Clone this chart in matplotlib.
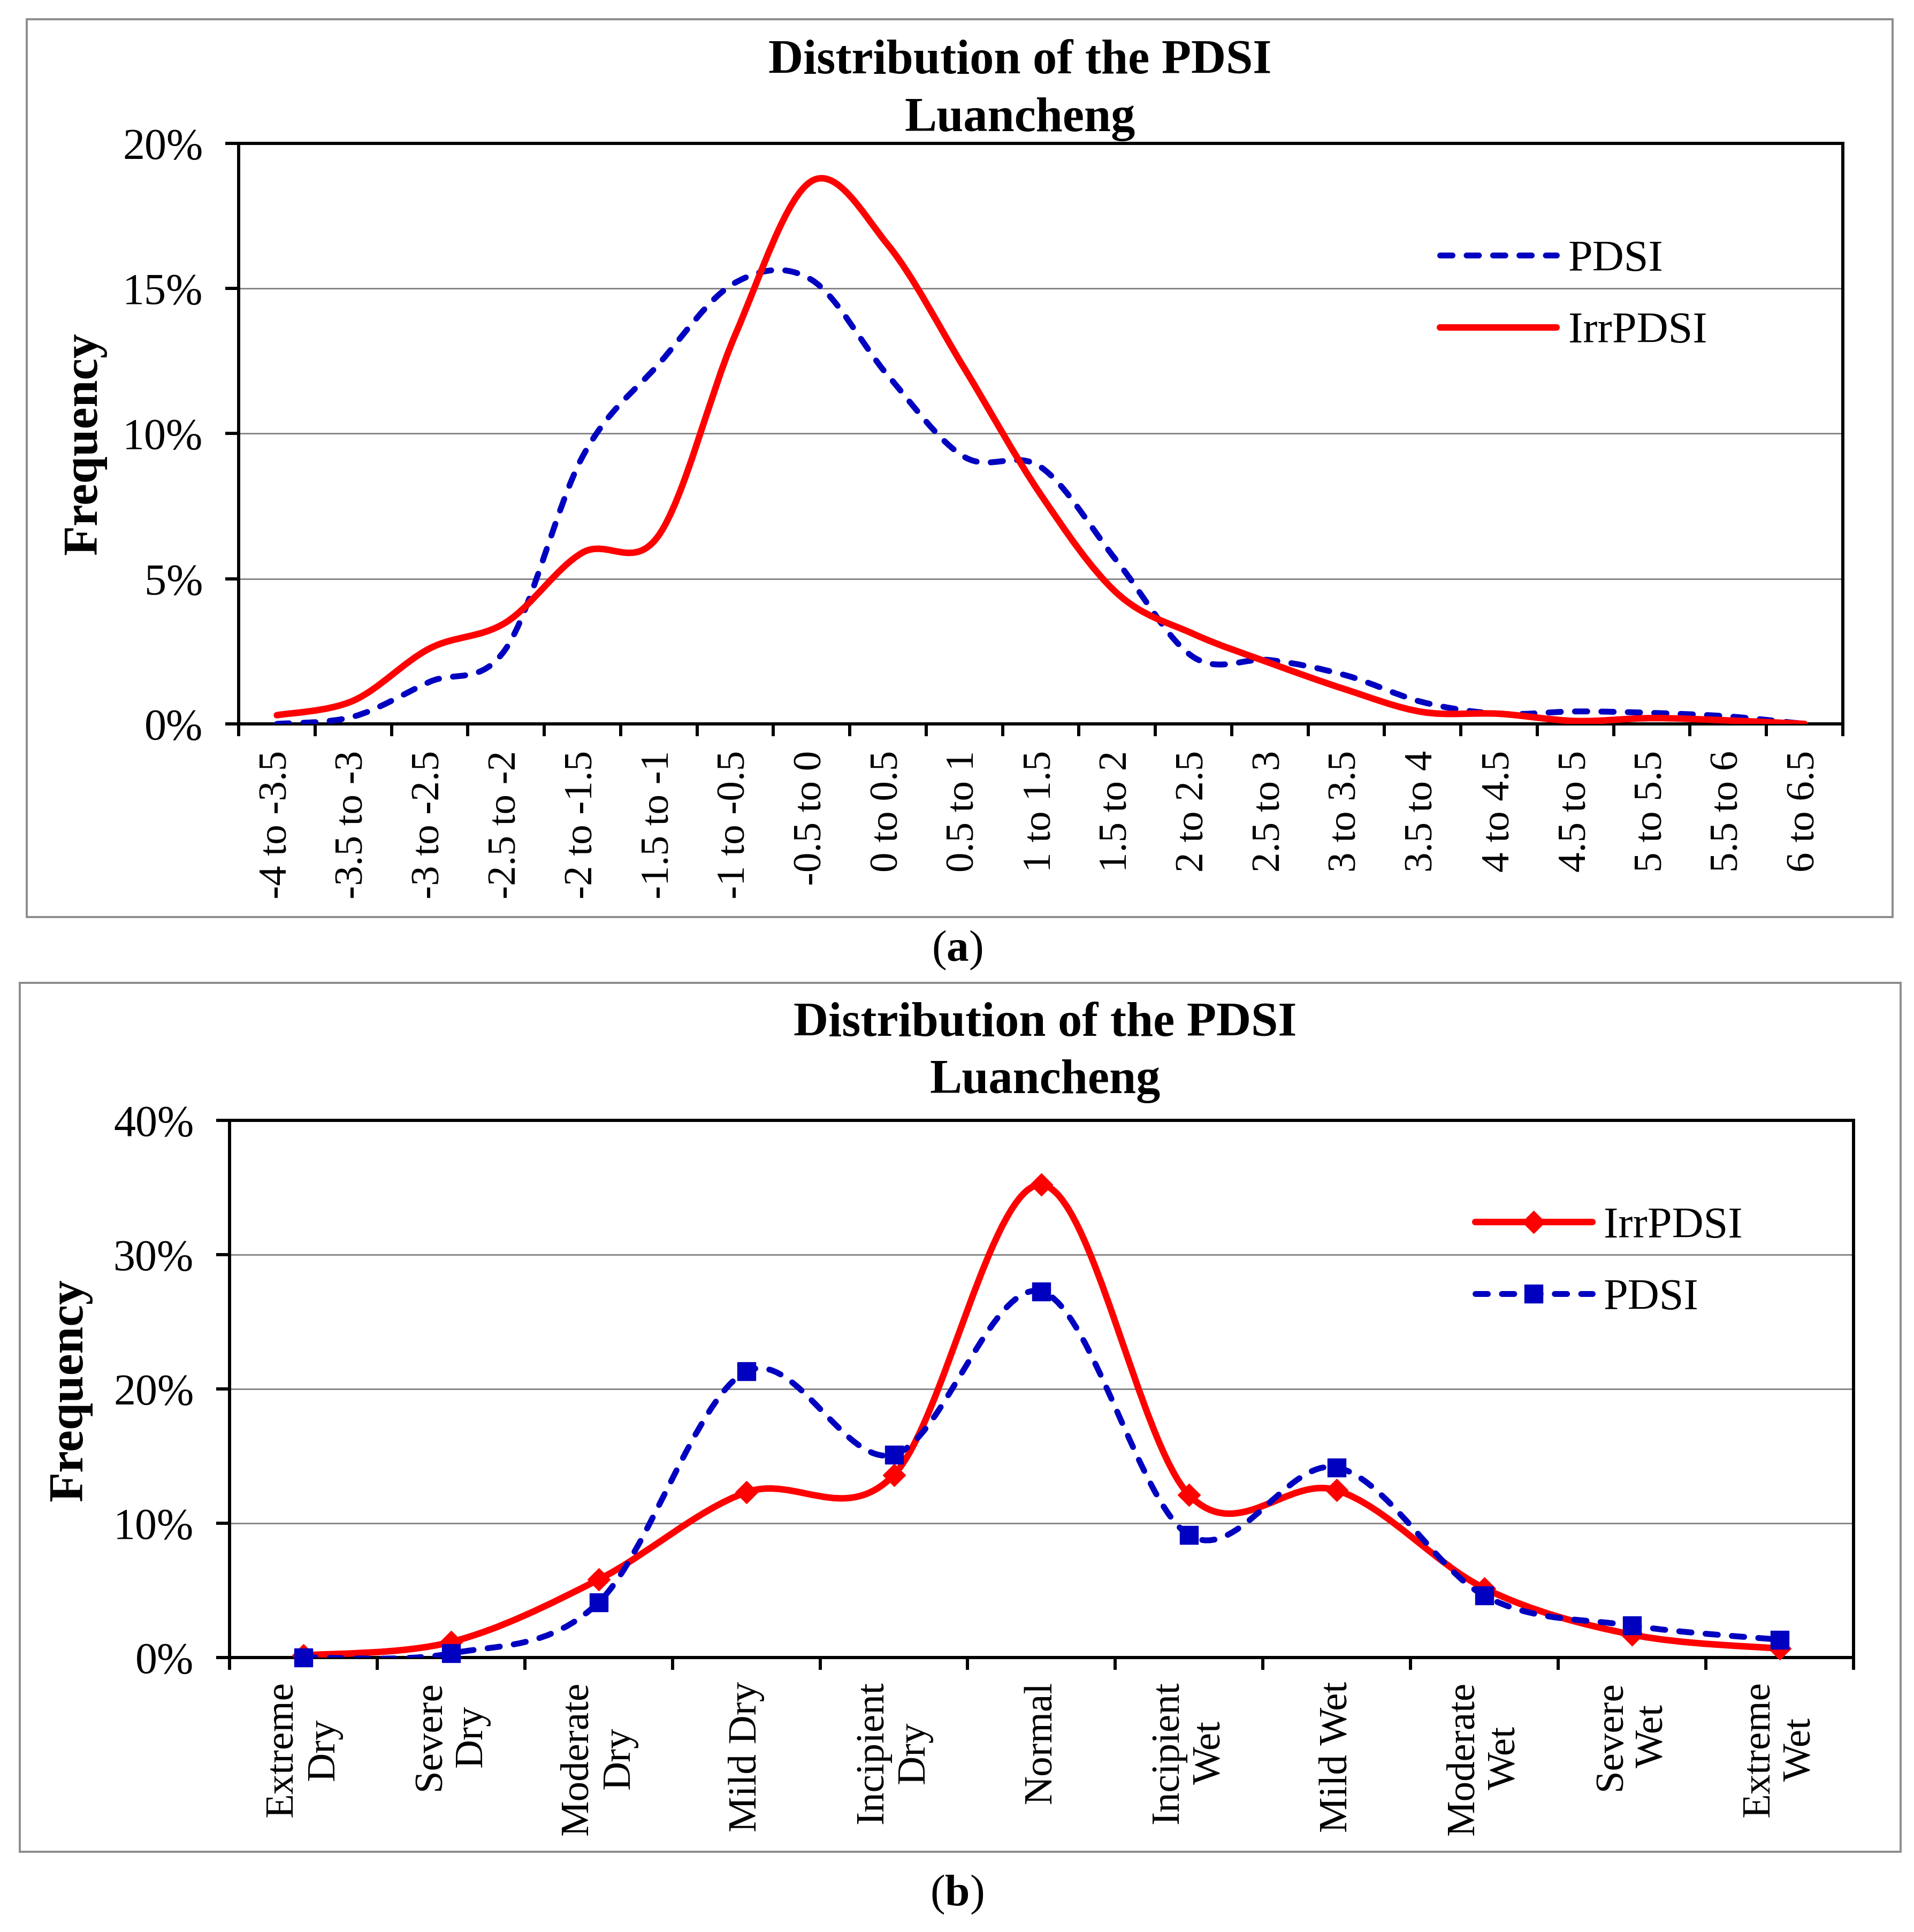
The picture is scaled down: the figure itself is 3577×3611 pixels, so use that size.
import matplotlib
matplotlib.use("Agg")
import matplotlib.pyplot as plt
import numpy as np
from matplotlib.lines import Line2D
from matplotlib.patches import PathPatch, Rectangle
from matplotlib.path import Path
from matplotlib.ticker import FuncFormatter, MultipleLocator

plt.rcParams["font.family"] = ["Liberation Serif", "DejaVu Serif"]
plt.rcParams["mathtext.fontset"] = "custom"
plt.rcParams["mathtext.rm"] = "Liberation Serif"
plt.rcParams["mathtext.bf"] = "Liberation Serif:bold"

RED = "#FF0000"
BLUE = "#0000C0"
GRID = "#808080"
FRAME = "#8C8C8C"

# panel (a): PDSI class intervals, frequency in %
bins_a = ["-4 to -3.5", "-3.5 to -3", "-3 to -2.5", "-2.5 to -2", "-2 to -1.5",
          "-1.5 to -1", "-1 to -0.5", "-0.5 to 0", "0 to 0.5", "0.5 to 1",
          "1 to 1.5", "1.5 to 2", "2 to 2.5", "2.5 to 3", "3 to 3.5",
          "3.5 to 4", "4 to 4.5", "4.5 to 5", "5 to 5.5", "5.5 to 6", "6 to 6.5"]
pdsi_a = [0.0, 0.25, 1.45, 2.6, 9.2, 12.4, 15.2, 15.3, 12.0, 9.2, 8.85,
          5.6, 2.3, 2.2, 1.67, 0.75, 0.35, 0.43, 0.38, 0.26, 0.0]
irr_a = [0.3, 0.8, 2.6, 3.5, 5.9, 6.5, 13.4, 18.7, 16.5, 12.25, 7.9,
         4.5, 3.1, 2.1, 1.18, 0.41, 0.35, 0.1, 0.2, 0.12, 0.0]

# panel (b): drought classes, frequency in %
classes_b = ["Extreme\nDry", "Severe\nDry", "Moderate\nDry", "Mild Dry",
             "Incipient\nDry", "Normal", "Incipient\nWet", "Mild Wet",
             "Moderate\nWet", "Severe\nWet", "Extreme\nWet"]
irr_b = [0.15, 1.15, 5.8, 12.3, 13.6, 35.2, 12.1, 12.45, 5.15, 1.7, 0.66]
pdsi_b = [0.0, 0.3, 4.1, 21.3, 15.1, 27.25, 9.1, 14.15, 4.6, 2.37, 1.32]

DASH = (0, (2.1, 2.4))


def smooth_path(xs, ys):
    # Excel-style smoothed line: cubic Bezier through every point
    pts = np.column_stack([xs, ys]).astype(float)
    n = len(pts)
    verts = [pts[0]]
    codes = [Path.MOVETO]
    for i in range(n - 1):
        p0 = pts[i - 1] if i > 0 else pts[i]
        p1 = pts[i]
        p2 = pts[i + 1]
        p3 = pts[i + 2] if i + 2 < n else pts[i + 1]
        verts += [p1 + (p2 - p0) / 6.0, p2 - (p3 - p1) / 6.0, p2]
        codes += [Path.CURVE4] * 3
    return Path(verts, codes)


def add_curve(ax, xs, ys, color, lw, ls, z):
    patch = PathPatch(smooth_path(xs, ys), fill=False, edgecolor=color,
                      linewidth=lw, linestyle=ls, capstyle="round",
                      joinstyle="round", zorder=z)
    ax.add_patch(patch)


def style_axes(ax, n, ymax, ystep, labels, xpad):
    ax.set_xlim(0, n)
    ax.set_ylim(0, ymax)
    ax.yaxis.set_major_locator(MultipleLocator(ystep))
    ax.yaxis.set_major_formatter(FuncFormatter(lambda v, p: f"{v:.0f}%"))
    ax.set_xticks(np.arange(n) + 0.5)
    ax.set_xticklabels(labels, rotation=90, ha="center", va="top")
    ax.set_xticks(np.arange(n + 1), minor=True)
    ax.tick_params(axis="x", which="major", length=0, pad=xpad, labelsize=54)
    ax.tick_params(axis="x", which="minor", length=16.5, width=4.3,
                   direction="out")
    ax.tick_params(axis="y", length=18, width=4.3, direction="out", pad=30,
                   labelsize=59)
    for s in ax.spines.values():
        s.set_linewidth(4.3)
    for y in np.arange(ystep, ymax + 0.001, ystep)[:-1]:
        ax.axhline(y, color=GRID, lw=2.0, zorder=0.5)


fig = plt.figure(figsize=(35.77, 36.11), dpi=100)

# outer chart frames
fig.add_artist(Rectangle((0.014, 0.5253), 0.9748, 0.4647, transform=fig.transFigure,
                         fill=False, edgecolor=FRAME, lw=2.8))
fig.add_artist(Rectangle((0.0103, 0.0415), 0.9827, 0.4498, transform=fig.transFigure,
                         fill=False, edgecolor=FRAME, lw=2.8))

# ---- panel (a)
ax1 = fig.add_axes([0.1247, 0.6253, 0.9628 - 0.1247, 0.9258 - 0.6253])
xa = np.arange(len(bins_a)) + 0.5
add_curve(ax1, xa, pdsi_a, BLUE, 7.9, DASH, 3)
add_curve(ax1, xa, irr_a, RED, 8.8, "-", 4)
style_axes(ax1, len(bins_a), 20, 5, bins_a, 36)
h_a = [Line2D([], [], color=BLUE, lw=7.9, linestyle=DASH, dash_capstyle="round"),
       Line2D([], [], color=RED, lw=8.8, solid_capstyle="round")]
ax1.legend(h_a, ["PDSI", "IrrPDSI"], loc="center left", bbox_to_anchor=(0.749, 0.737),
           frameon=False, fontsize=59, handlelength=2.66, handletextpad=0.26,
           labelspacing=0.72, borderpad=0, borderaxespad=0)
fig.text(0.533, 0.9532, "Distribution of the PDSI\nLuancheng", ha="center",
         va="center", fontsize=65, fontweight="bold", linespacing=1.4)
fig.text(0.0444, 0.7704, "Frequency", rotation=90, ha="center", va="center",
         fontsize=66, fontweight="bold")
fig.text(0.500, 0.508, r"($\mathbf{a}$)", ha="center", va="center", fontsize=60)

# ---- panel (b)
ax2 = fig.add_axes([0.1199, 0.1421, 0.9684 - 0.1199, 0.4201 - 0.1421])
xb = np.arange(len(classes_b)) + 0.5
add_curve(ax2, xb, irr_b, RED, 8.8, "-", 3)
ax2.plot(xb, irr_b, linestyle="none", marker="D", ms=21, color=RED,
         markeredgecolor=RED, zorder=3.5, clip_on=False)
add_curve(ax2, xb, pdsi_b, BLUE, 7.9, DASH, 4)
ax2.plot(xb, pdsi_b, linestyle="none", marker="s", ms=25, color=BLUE,
         markeredgecolor=BLUE, zorder=4.5, clip_on=False)
style_axes(ax2, len(classes_b), 40, 10, classes_b, 32)
h_b = [Line2D([], [], color=RED, lw=8.8, marker="D", ms=21, solid_capstyle="round"),
       Line2D([], [], color=BLUE, lw=7.9, linestyle=DASH, dash_capstyle="round",
              marker="s", ms=25)]
ax2.legend(h_b, ["IrrPDSI", "PDSI"], loc="center left", bbox_to_anchor=(0.767, 0.735),
           frameon=False, fontsize=59, handlelength=2.67, handletextpad=0.26,
           labelspacing=0.71, borderpad=0, borderaxespad=0, numpoints=1)
fig.text(0.546, 0.4552, "Distribution of the PDSI\nLuancheng", ha="center",
         va="center", fontsize=65, fontweight="bold", linespacing=1.4)
fig.text(0.0368, 0.2805, "Frequency", rotation=90, ha="center", va="center",
         fontsize=66, fontweight="bold")
fig.text(0.500, 0.0194, r"($\mathbf{b}$)", ha="center", va="center", fontsize=60)

fig.savefig("out.png", dpi=100)
